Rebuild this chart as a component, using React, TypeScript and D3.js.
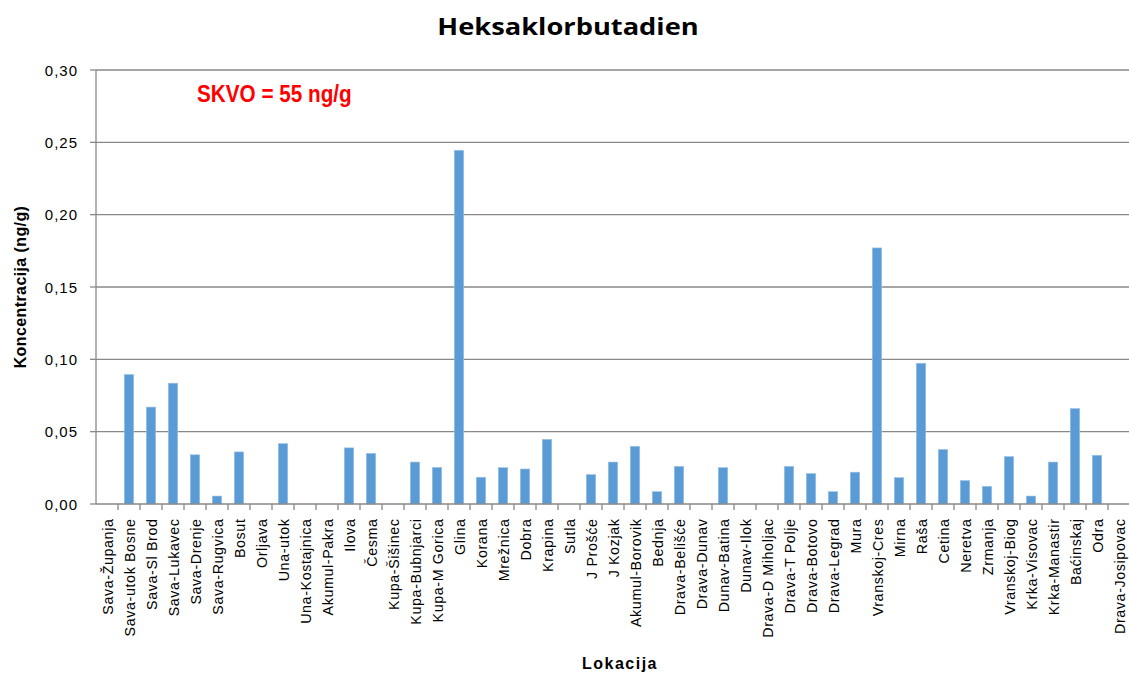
import React from "react";
import * as d3 from "d3";

const categories = [
  "Sava-Županja", "Sava-utok Bosne", "Sava-Sl Brod", "Sava-Lukavec", "Sava-Drenje", "Sava-Rugvica",
  "Bosut", "Orljava", "Una-utok", "Una-Kostajnica", "Akumul-Pakra", "Ilova", "Česma", "Kupa-Šišinec",
  "Kupa-Bubnjarci", "Kupa-M Gorica", "Glina", "Korana", "Mrežnica", "Dobra", "Krapina", "Sutla",
  "J Prošće", "J Kozjak", "Akumul-Borovik", "Bednja", "Drava-Belišće", "Drava-Dunav", "Dunav-Batina",
  "Dunav-Ilok", "Drava-D Miholjac", "Drava-T Polje", "Drava-Botovo", "Drava-Legrad", "Mura",
  "Vranskoj-Cres", "Mirna", "Raša", "Cetina", "Neretva", "Zrmanja", "Vranskoj-Biog", "Krka-Visovac",
  "Krka-Manastir", "Baćinskaj", "Odra", "Drava-Josipovac",
];

const values = [
  0, 0.0895, 0.067, 0.0835, 0.034, 0.0055,
  0.036, 0, 0.0417, 0, 0, 0.0388, 0.035, 0,
  0.029, 0.0253, 0.2445, 0.0185, 0.0251, 0.0242, 0.0447, 0,
  0.0203, 0.029, 0.0399, 0.0085, 0.026, 0, 0.0251,
  0, 0, 0.026, 0.021, 0.0085, 0.022,
  0.177, 0.0182, 0.0973, 0.0377, 0.0162, 0.0122, 0.0328, 0.0055,
  0.029, 0.066, 0.0337, 0,
];

const yTicks = [0, 0.05, 0.1, 0.15, 0.2, 0.25, 0.3];

const W = 1129;
const H = 675;
const M = { left: 96, right: 1130, top: 70, bottom: 504 };

export default function App() {
  const x = d3.scaleBand<string>().domain(categories).range([M.left, M.right]).paddingInner(0.57).paddingOuter(0.285);
  const xb = d3.scaleBand<string>().domain(categories).range([M.left, M.right]);
  const y = d3.scaleLinear().domain([0, 0.3]).range([M.bottom, M.top]);
  const fmt = (v: number) => v.toFixed(2).replace(".", ",");
  const font = "'Liberation Sans', Arial, sans-serif";

  return (
    <svg width={W} height={H} style={{ position: "absolute", left: 0, top: 0, background: "#fff" }}>
      <text transform="translate(568,34.5) scale(1.16,1)" textAnchor="middle" fontFamily="'Open Sans', sans-serif" fontWeight="bold" fontSize={23.5} fill="#000">
        Heksaklorbutadien
      </text>
      {yTicks.map((t) => (
        <g key={t}>
          {t > 0 && <line x1={M.left} x2={M.right} y1={y(t)} y2={y(t)} stroke="#898989" strokeWidth={1.3} />}
          <line x1={M.left - 6} x2={M.left} y1={y(t)} y2={y(t)} stroke="#898989" strokeWidth={1.3} />
          <text x={78} y={y(t) + 5.5} textAnchor="end" fontFamily={font} fontSize={15} letterSpacing={1} fill="#000">
            {fmt(t)}
          </text>
        </g>
      ))}
      {categories.map((c, i) => (
        <rect key={c} x={x(c)} y={y(values[i])} width={x.bandwidth()} height={y(0) - y(values[i])} fill="#5B9BD5" stroke="#9CC3E6" strokeWidth={0.6} />
      ))}
      <line x1={M.left} x2={M.left} y1={M.top} y2={M.bottom} stroke="#898989" strokeWidth={1.3} />
      <line x1={M.left} x2={M.right} y1={M.bottom} y2={M.bottom} stroke="#898989" strokeWidth={1.3} />
      {categories.map((c) => (
        <line key={"t" + c} x1={(xb(c) as number) + xb.bandwidth()} x2={(xb(c) as number) + xb.bandwidth()} y1={M.bottom} y2={M.bottom + 6} stroke="#898989" strokeWidth={1.3} />
      ))}
      {categories.map((c) => {
        const cx = (xb(c) as number) + xb.bandwidth() / 2 + 5.5;
        return (
          <text key={"l" + c} transform={`translate(${cx},518.5) rotate(-90)`} textAnchor="end" fontFamily={font} fontSize={14.3} letterSpacing={0.6} fill="#000">
            {c}
          </text>
        );
      })}
      <text transform={`translate(26,287) rotate(-90)`} textAnchor="middle" fontFamily={font} fontWeight="bold" fontSize={16} letterSpacing={0.4} fill="#000">
        Koncentracija  (ng/g)
      </text>
      <text x={620} y={669} textAnchor="middle" fontFamily={font} fontWeight="bold" fontSize={16} letterSpacing={1.5} fill="#000">
        Lokacija
      </text>
      <text transform="translate(197,101.5) scale(0.9,1)" fontFamily={font} fontWeight="bold" fontSize={23} fill="#FF0000">
        SKVO = 55 ng/g
      </text>
    </svg>
  );
}
